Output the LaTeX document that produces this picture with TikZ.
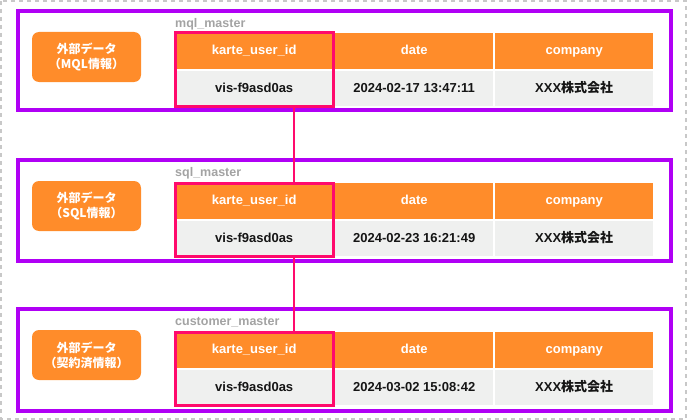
\documentclass[tikz,border=0pt]{standalone}
\usepackage{fontspec}
\setmainfont{Liberation Sans}
\newfontfamily\cjk{Noto Sans CJK JP}
\usetikzlibrary{fit}
\definecolor{orng}{HTML}{FF8C2A}
\definecolor{rowgray}{HTML}{EFF0EF}
\definecolor{hotpink}{HTML}{FF0A6C}
\definecolor{violetline}{HTML}{B000F5}
\definecolor{dashgray}{HTML}{C8C8C8}
\definecolor{titlegray}{HTML}{A3A3A3}
\definecolor{inkblack}{HTML}{151515}
\begin{document}
\begin{tikzpicture}[x=1pt,y=-1pt,
  font=\bfseries\fontsize{13}{15}\selectfont,
  hdr/.style={fill=orng, text=white, minimum width=158pt, minimum height=36pt, inner sep=0pt, text height=9.5pt, text depth=2.5pt, anchor=north west},
  cell/.style={fill=rowgray, text=inkblack, minimum width=158pt, minimum height=35pt, inner sep=0pt, text height=9.5pt, text depth=2.5pt, anchor=north west},
  frame/.style={draw=violetline, line width=4pt},
  srcbox/.style={fill=orng, text=white, rounded corners=7pt, minimum width=109pt, minimum height=50pt, align=center, inner sep=0pt, font=\cjk\bfseries\fontsize{12}{15}\selectfont},
  tabtitle/.style={text=titlegray, anchor=west, inner sep=0pt, font=\bfseries\fontsize{12.5}{14}\selectfont},
  keybox/.style={draw=hotpink, line width=3pt, inner sep=0pt},
  link/.style={draw=hotpink, line width=2pt}]
\useasboundingbox (0,0) rectangle (688,420);
\draw[dashgray, line width=2pt, dash pattern=on 4pt off 4pt] (1,1) rectangle (686,419);

% ---------- mql_master ----------
\draw[frame] (18,11) rectangle (671,110);
\node[srcbox] (s1) at (86.5,57) {外部データ\\（MQL情報）};
\node[tabtitle] (t1) at (175,24) {mql\_master};
\node[hdr] (h11) at (175,33) {karte\_user\_id};
\node[hdr] (h12) at (335,33) {date};
\node[hdr] (h13) at (495,33) {company};
\node[cell] (r11) at (175,71) {vis-f9asd0as};
\node[cell] (r12) at (335,71) {2024-02-17 13:47:11};
\node[cell] (r13) at (495,71) {XXX{\cjk 株式会社}};
\node[keybox, fit=(h11)(r11)] (k1) {};

% ---------- sql_master ----------
\draw[frame] (18,160) rectangle (671,261);
\node[srcbox] (s2) at (86.5,206) {外部データ\\（SQL情報）};
\node[tabtitle] (t2) at (175,173) {sql\_master};
\node[hdr] (h21) at (175,183) {karte\_user\_id};
\node[hdr] (h22) at (335,183) {date};
\node[hdr] (h23) at (495,183) {company};
\node[cell] (r21) at (175,221) {vis-f9asd0as};
\node[cell] (r22) at (335,221) {2024-02-23 16:21:49};
\node[cell] (r23) at (495,221) {XXX{\cjk 株式会社}};
\node[keybox, fit=(h21)(r21)] (k2) {};

% ---------- customer_master ----------
\draw[frame] (18,309) rectangle (671,411);
\node[srcbox] (s3) at (86.5,355) {外部データ\\（契約済情報）};
\node[tabtitle] (t3) at (175,322) {customer\_master};
\node[hdr] (h31) at (175,332) {karte\_user\_id};
\node[hdr] (h32) at (335,332) {date};
\node[hdr] (h33) at (495,332) {company};
\node[cell] (r31) at (175,370) {vis-f9asd0as};
\node[cell] (r32) at (335,370) {2024-03-02 15:08:42};
\node[cell] (r33) at (495,370) {XXX{\cjk 株式会社}};
\node[keybox, fit=(h31)(r31)] (k3) {};

% ---------- links ----------
\draw[link] ([xshift=40pt]k1.south) -- ([xshift=40pt]k2.north);
\draw[link] ([xshift=40pt]k2.south) -- ([xshift=40pt]k3.north);
\end{tikzpicture}
\end{document}
